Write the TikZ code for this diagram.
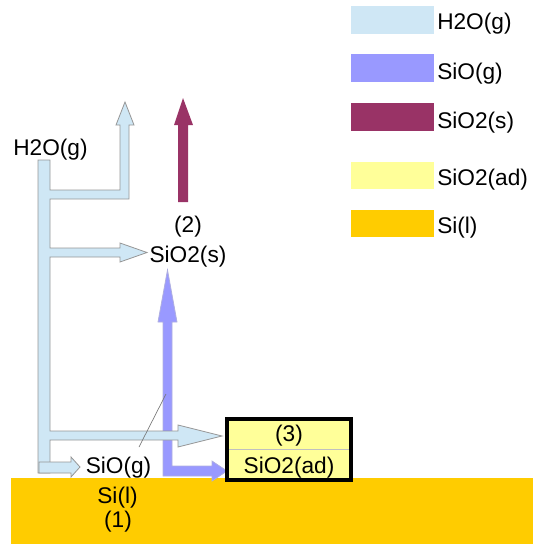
\documentclass[tikz,border=0pt]{standalone}
\usepackage{fontspec}
\setmainfont{Liberation Sans}
\definecolor{hcol}{RGB}{207,231,245}
\definecolor{scol}{RGB}{153,153,255}
\definecolor{mcol}{RGB}{153,51,102}
\definecolor{ycol}{RGB}{255,255,153}
\definecolor{gcol}{RGB}{255,204,0}
\definecolor{ocol}{RGB}{150,150,150}
\tikzset{
  lbl/.style={inner sep=0pt, anchor=base, font=\fontsize{17pt}{20pt}\selectfont, text=black},
  legtxt/.style={lbl, anchor=base west},
  blk/.style={draw=ocol, line width=0.6pt, line join=miter},
}
\begin{document}
\begin{tikzpicture}[x=0.75pt,y=-0.75pt]
\useasboundingbox (0,0) rectangle (533,544);
% substrate
\fill[gcol] (11,478) rectangle (533,544);
% legend
\fill[hcol] (351,6) rectangle (434,34);
\fill[scol] (351,54) rectangle (434,82);
\fill[mcol] (351,103) rectangle (434,131);
\fill[ycol] (351,162) rectangle (434,189);
\fill[gcol] (351,210) rectangle (434,237);
\node[legtxt] (l1) at (437,29) {H2O(g)};
\node[legtxt] (l2) at (437,79) {SiO(g)};
\node[legtxt] (l3) at (437,128) {SiO2(s)};
\node[legtxt] (l4) at (437,185) {SiO2(ad)};
\node[legtxt] (l5) at (437,233) {Si(l)};
% SiO purple arrow
\filldraw[blk, fill=scol, draw=scol!80!black!60] (163,476) -- (163,322) -- (158,322) -- (167.5,270) -- (177,322) -- (172,322) -- (172,466) -- (212,466) -- (212,461) -- (227,471) -- (212,481) -- (212,476) -- cycle;
% SiO2(s) maroon arrow
\fill[mcol] (178,202) -- (178,125) -- (174,125) -- (183,98) -- (193,125) -- (188,125) -- (188,202) -- cycle;
% H2O main structure
\filldraw[blk, fill=hcol] (38,160) -- (50,160) -- (50,190) -- (120,190) -- (120,125) -- (116,125) -- (125,102) -- (134,125) -- (129,125) -- (129,199) -- (50,199) -- (50,248) -- (120,248) -- (120,243) -- (147,252.5) -- (120,262) -- (120,257) -- (50,257) -- (50,431) -- (178,431) -- (178,425) -- (222,436) -- (178,447) -- (178,440) -- (50,440) -- (50,473) -- (38,473) -- cycle;
% small H2O arrow
\filldraw[blk, fill=hcol] (39,462) -- (71,462) -- (71,457) -- (80,467) -- (71,477) -- (71,473) -- (39,473) -- cycle;
% SiO2(ad) box
\fill[ycol] (227,419) rectangle (351,480);
\draw[ocol!60, line width=0.5pt] (227,449) -- (351,449);
\draw[black, line width=2.3pt] (227,419) rectangle (351,480);
\node[lbl] (n3) at (289,441) {(3)};
\node[lbl] (nad) at (289,473) {SiO2(ad)};
% labels
\node[lbl] (h2o) at (50.5,155) {H2O(g)};
\node[lbl] (n2) at (188,232) {(2)};
\node[lbl] (sio2s) at (188,262) {SiO2(s)};
\node[lbl] (siog) at (118.5,473) {SiO(g)};
\node[lbl] (sil) at (117.5,503) {Si(l)};
\node[lbl] (n1) at (118,527) {(1)};
% pointer line
\coordinate (pa) at (139,447);
\coordinate (pb) at (166,394);
\draw[ocol!80!black, line width=0.5pt] (pa) -- (pb);
\end{tikzpicture}
\end{document}
